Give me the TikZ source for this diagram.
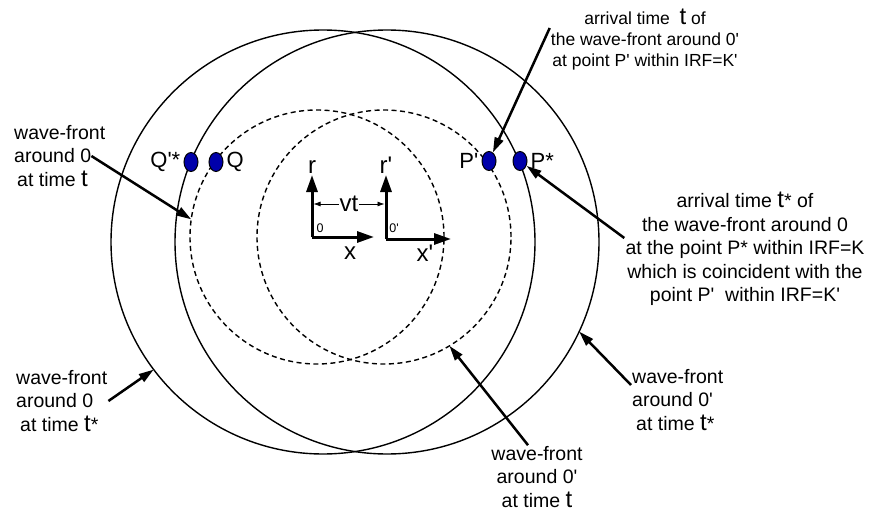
\documentclass[tikz,border=0pt]{standalone}
\usepackage{fontspec}
\setmainfont{Liberation Sans}[Ligatures=TeXOff]
\usepackage{tikz}
\usetikzlibrary{positioning,arrows.meta,shapes.geometric}
\definecolor{dotblue}{RGB}{0,0,170}
\newcommand{\tbig}{{\fontsize{24}{24}\selectfont t}}

\begin{document}
\begin{tikzpicture}[
x=1pt, y=-1pt,
node distance=2pt,
font=\fontsize{19.5}{23.5}\selectfont,
front/.style={draw, circle, line width=1.4pt, inner sep=0pt, outer sep=0pt, minimum size=424pt},
dashfront/.style={front, dash pattern=on 5pt off 3.5pt, minimum size=254pt},
dot/.style={draw, ellipse, line width=1pt, fill=dotblue, inner sep=0pt, minimum width=14pt, minimum height=19pt},
dotlabel/.style={inner sep=1pt, font=\fontsize{22}{22}\selectfont},
axislabel/.style={inner sep=1pt, font=\fontsize{24}{24}\selectfont},
origin/.style={inner sep=1pt, font=\fontsize{12.5}{12.5}\selectfont},
note/.style={align=center, inner sep=1pt},
arrow/.style={-{Triangle[length=15pt,width=9pt]}, line width=2.5pt},
axis/.style={-{Triangle[length=17pt,width=11pt]}, line width=3pt}
]
\useasboundingbox (0,0) rectangle (870,516);

% wave-fronts
\node[front] (A) at (323,242) {};
\node[front] (B) at (387,242) {};
\node[dashfront] (C) at (317,237) {};
\node[dashfront] (D) at (384,237) {};

% points
\node[dot] (Qs) at (191,162) {};
\node[dot] (Q) at (216,162) {};
\node[dot] (Pp) at (489,161) {};
\node[dot] (Ps) at (520,161) {};
\node[dotlabel, left=of Qs] (Qstext) {Q'*};
\node[dotlabel, right=of Q] (Qtext) {Q};
\node[dotlabel, left=of Pp] (Pptext) {P'};
\node[dotlabel, right=of Ps] (Pstext) {P*};

% frames K and K'
\coordinate (O) at (312,237);
\coordinate (Op) at (386,239);
\coordinate (rtip) at (312,175);
\coordinate (xtip) at (374,237);
\coordinate (rptip) at (386,175);
\coordinate (xptip) at (451,239);
\draw[axis] (O) -- (rtip);
\draw[axis] (O) -- (xtip);
\draw[axis] (Op) -- (rptip);
\draw[axis] (Op) -- (xptip);
\node[axislabel, above=0pt of rtip] (rtext) {r};
\node[axislabel, above=0pt of rptip] (rptext) {r'};
\node[axislabel] (xtext) at (350,253) {x};
\node[axislabel] (xptext) at (425,253) {x'};
\node[origin] (otext) at (320,228) {0};
\node[origin] (optext) at (394,228) {0'};
\coordinate (vtl) at (313.5,204);
\coordinate (vtr) at (384.5,204);
\draw[{Latex[length=7pt,width=5pt]}-{Latex[length=7pt,width=5pt]}, line width=0.8pt] (vtl) -- (vtr) node[axislabel, midway, fill=white, inner sep=0.5pt] (vt) {vt};

% labels
\node[note, font=\fontsize{17.5}{21}\selectfont] (ltop) at (645,40) {arrival time \ \tbig\ of\\the wave-front around 0'\\at point P' within IRF=K'};
\node[note] (lPs) at (745,249) {arrival time \tbig* of\\the wave-front around 0\\at the point P* within IRF=K\\which is coincident with the\\point P'\ \ within IRF=K'};
\node[note, align=left, anchor=west] (lC) at (13,156) {wave-front\\around 0\\\hspace{3pt}at time \tbig};
\node[note, align=left, anchor=west] (lA) at (15,401) {wave-front\\around 0\\\hspace{4pt}at time \tbig*};
\node[note] (lD) at (537,477) {wave-front\\around 0'\\at time \tbig};
\node[note, align=left, anchor=west] (lB) at (631,400) {wave-front\\around 0'\\\hspace{4pt}at time \tbig*};

\draw[arrow] ([yshift=12pt]ltop.west) -- (Pp);
\draw[arrow] ([yshift=11pt]lPs.west) -- (Ps);
\draw[arrow] ([xshift=-15pt]lC.east) -- (C.172);
\draw[arrow] (lA.east) -- (A.217);
\draw[arrow] ([xshift=-9pt]lD.north) -- (D.301.7);
\draw[arrow] ([yshift=15pt]lB.west) -- (B.335);
\end{tikzpicture}
\end{document}
